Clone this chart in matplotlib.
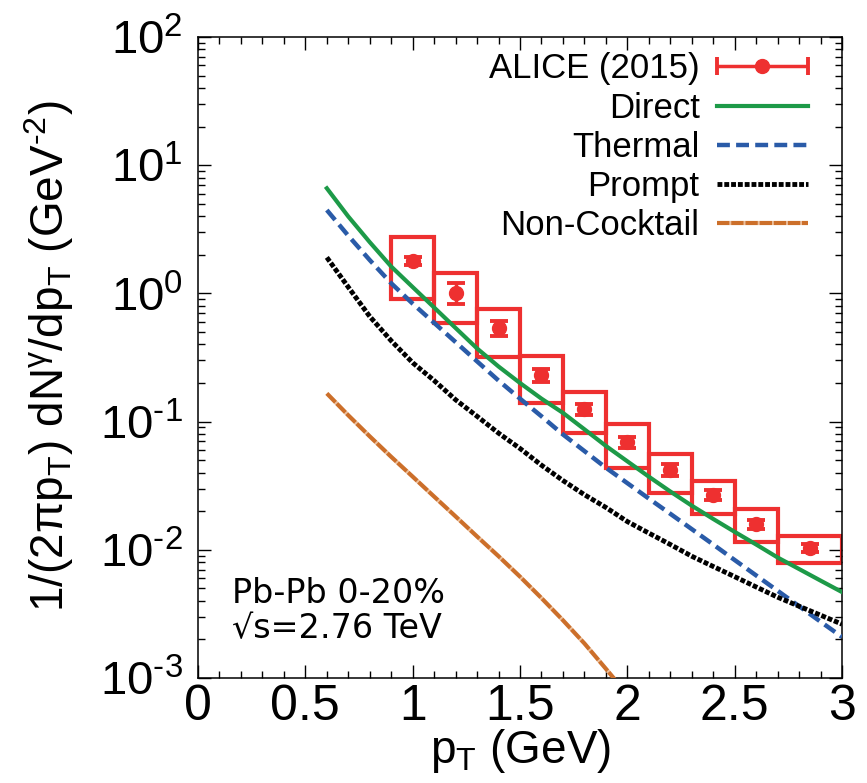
import math

import matplotlib
matplotlib.use("Agg")
import matplotlib.pyplot as plt
from matplotlib.container import ErrorbarContainer
from matplotlib.legend_handler import HandlerErrorbar
from matplotlib.ticker import MultipleLocator, LogLocator, FuncFormatter

plt.rcParams["font.family"] = ["Liberation Sans", "DejaVu Sans"]
plt.rcParams["mathtext.fontset"] = "custom"
plt.rcParams["mathtext.rm"] = "Liberation Sans"
plt.rcParams["mathtext.it"] = "Liberation Sans:italic"
plt.rcParams["mathtext.default"] = "regular"

# ALICE 2015 direct photons, Pb-Pb 0-20%
alice_pt = [1.0, 1.2, 1.4, 1.6, 1.8, 2.0, 2.2, 2.4, 2.6, 2.85]
alice_y = [1.79, 1.01, 0.537, 0.231, 0.125, 0.0693, 0.0419, 0.0268, 0.0159, 0.0103]
alice_stat = [0.13, 0.19, 0.072, 0.026, 0.012, 0.0072, 0.0044, 0.0025, 0.0013, 0.00076]
bin_lo = [0.9, 1.1, 1.3, 1.5, 1.7, 1.9, 2.1, 2.3, 2.5, 2.7]
bin_hi = [1.1, 1.3, 1.5, 1.7, 1.9, 2.1, 2.3, 2.5, 2.7, 3.0]
sys_lo = [0.905, 0.588, 0.319, 0.140, 0.0815, 0.0435, 0.0277, 0.0190, 0.0115, 0.00789]
sys_hi = [2.75, 1.44, 0.756, 0.325, 0.170, 0.0958, 0.0559, 0.0344, 0.0208, 0.0128]

# model curves
pt = [0.6, 0.7, 0.8, 0.9, 1.0, 1.1, 1.2, 1.3, 1.4, 1.5, 1.6, 1.7, 1.8,
      1.9, 2.0, 2.1, 2.2, 2.3, 2.4, 2.5, 2.6, 2.7, 2.8, 2.9, 3.0]
direct = [6.61, 3.98, 2.51, 1.62, 1.12, 0.776, 0.537, 0.372, 0.269, 0.200,
          0.151, 0.117, 0.0871, 0.0646, 0.0490, 0.0372, 0.0285, 0.0221, 0.0174,
          0.0138, 0.0110, 0.00871, 0.00708, 0.00575, 0.00468]
thermal = [4.47, 2.82, 1.82, 1.20, 0.832, 0.589, 0.417, 0.295, 0.209, 0.151,
           0.110, 0.0794, 0.0589, 0.0437, 0.0331, 0.0251, 0.0191, 0.0145, 0.0110,
           0.00832, 0.00631, 0.00479, 0.00363, 0.00275, 0.00209]
prompt = [1.91, 1.12, 0.661, 0.427, 0.288, 0.209, 0.148, 0.110, 0.0813, 0.0617,
          0.0457, 0.0347, 0.0269, 0.0214, 0.0166, 0.0135, 0.0110, 0.00891, 0.00741,
          0.00617, 0.00513, 0.00427, 0.00363, 0.00309, 0.00263]
noncocktail_pt = [0.6, 0.7, 0.8, 0.9, 1.0, 1.1, 1.2, 1.3, 1.4, 1.5, 1.6, 1.7, 1.8, 1.9, 2.0]
noncocktail = [0.166, 0.112, 0.0767, 0.0531, 0.0372, 0.0260, 0.0182, 0.0127,
               0.00891, 0.00617, 0.00420, 0.00282, 0.00186, 0.00118, 0.000745]

RED = "#ee3030"
GREEN = "#1d9a48"
BLUE = "#2a5ba8"
ORANGE = "#cc6f2a"


def log_label(v, pos):
    e = int(round(math.log10(v)))
    if e < 0:
        return r"$10^{\text{-}%d}$" % (-e)
    return r"$10^{%d}$" % e


fig = plt.figure(figsize=(8.67, 7.83), dpi=100)
ax = fig.add_axes([0.2284, 0.1341, 0.7428, 0.8186])
ax.set_yscale("log")

# systematic boxes
centers = [(a + b) / 2 for a, b in zip(bin_lo, bin_hi)]
widths = [b - a for a, b in zip(bin_lo, bin_hi)]
heights = [h - l for l, h in zip(sys_lo, sys_hi)]
ax.bar(centers, heights, width=widths, bottom=sys_lo, fill=False,
       edgecolor=RED, linewidth=3, zorder=2)

l_dir, = ax.plot(pt, direct, color=GREEN, lw=3, zorder=3)
l_th, = ax.plot(pt, thermal, color=BLUE, lw=3.2, ls=(0, (2.9, 1.4)), zorder=3)
l_pr, = ax.plot(pt, prompt, color="black", lw=3.5, ls=(0, (1.0, 0.4)), zorder=3)
l_nc, = ax.plot(noncocktail_pt, noncocktail, color=ORANGE, lw=3,
                ls=(0, (3.0, 0.4)), gapcolor="#ecc09c", zorder=3)

eb = ax.errorbar(alice_pt, alice_y, yerr=alice_stat, fmt="o", color=RED, ms=10,
                 lw=2.5, capsize=6.5, capthick=2.8, zorder=4)
# gnuplot-style key entry: horizontal bar with end caps
alice_handle = ErrorbarContainer(eb.lines, has_xerr=True, has_yerr=False,
                                 label="ALICE (2015)")

ax.set_xlim(0, 3)
ax.set_ylim(1e-3, 1e2)
ax.xaxis.set_major_locator(MultipleLocator(0.5))
ax.xaxis.set_minor_locator(MultipleLocator(0.1))
ax.xaxis.set_major_formatter(FuncFormatter(lambda v, p: "%g" % v))
ax.yaxis.set_major_locator(LogLocator(base=10, numticks=10))
ax.yaxis.set_minor_locator(LogLocator(base=10, subs=range(2, 10), numticks=20))
ax.yaxis.set_major_formatter(FuncFormatter(log_label))
ax.tick_params(which="both", direction="in", top=True, right=True, width=1)
ax.tick_params(which="major", length=9.5)
ax.tick_params(which="minor", length=5)
ax.tick_params(axis="x", which="major", labelsize=36, pad=4)
ax.tick_params(axis="y", which="major", labelsize=34, pad=11)
for s in ax.spines.values():
    s.set_linewidth(1.1)

ax.set_xlabel(r"p$_\mathrm{T}$ (GeV)", fontsize=33, labelpad=-2)
ax.set_ylabel(r"1/(2$\pi$p$_\mathrm{T}$) dN$^{\gamma}$/dp$_\mathrm{T}$ (GeV$^{\text{-}2}$)",
              fontsize=33)
ax.yaxis.set_label_coords(-0.19, 0.502)

ax.text(0.053, 0.117, "Pb-Pb 0-20%", transform=ax.transAxes, fontsize=24,
        family="DejaVu Sans", va="baseline")
ax.text(0.053, 0.062, "\u221as=2.76 TeV", transform=ax.transAxes, fontsize=24,
        family="DejaVu Sans", va="baseline")

ax.legend([alice_handle, l_dir, l_th, l_pr, l_nc],
          ["ALICE (2015)", "Direct", "Thermal", "Prompt", "Non-Cocktail"],
          handler_map={ErrorbarContainer: HandlerErrorbar(xerr_size=1.3)},
          loc="upper right", bbox_to_anchor=(0.947, 0.976), frameon=False,
          markerfirst=False, fontsize=25, labelspacing=0.18, handlelength=2.62,
          handletextpad=0.5, borderpad=0, borderaxespad=0)

fig.savefig("out.png", dpi=100)
